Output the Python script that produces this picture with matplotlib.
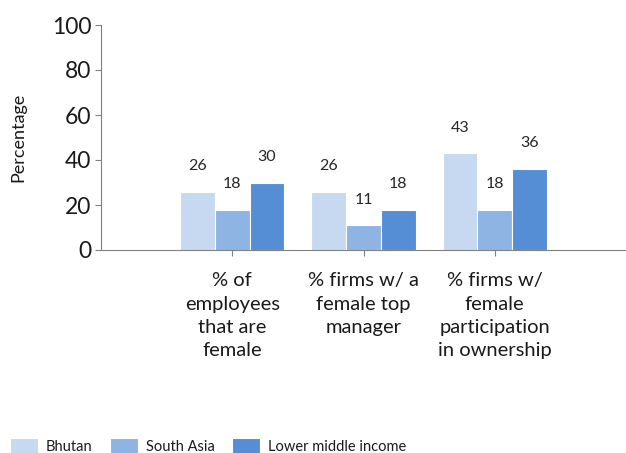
import matplotlib
matplotlib.use("Agg")
import matplotlib.pyplot as plt
import numpy as np

categories = ["% of\nemployees\nthat are\nfemale",
              "% firms w/ a\nfemale top\nmanager",
              "% firms w/\nfemale\nparticipation\nin ownership"]
series_names = ["Bhutan", "South Asia", "Lower middle income"]
bhutan = [26, 26, 43]
south_asia = [18, 11, 18]
lower_middle = [30, 18, 36]
yticks = [0, 20, 40, 60, 80, 100]

colors = ["#C6D9F1", "#8DB4E2", "#558ED5"]
plt.rcParams['font.family'] = ['Lato', 'DejaVu Sans']

fig = plt.figure(figsize=(6.26, 4.53), dpi=100)
ax = fig.add_axes([101/626, 1-250/453, 1-101/626, 225/453])

x = np.arange(1, len(categories) + 1)
w = 0.265
data = [bhutan, south_asia, lower_middle]
for i, (vals, name, c) in enumerate(zip(data, series_names, colors)):
    bars = ax.bar(x + (i - 1) * w, vals, width=w, color=c, edgecolor="white",
                  linewidth=0.8, label=name)
    for b, v in zip(bars, vals):
        ax.annotate(str(v), (b.get_x() + b.get_width() / 2, v),
                    xytext=(0, 13.5), textcoords="offset points",
                    ha="center", va="bottom", fontsize=11.5, color="#262626")

ax.set_xlim(0, 4)
ax.set_ylim(0, 100)
ax.set_yticks(yticks)
ax.set_xticks(x)
ax.set_xticklabels(categories, fontsize=14.5, linespacing=1.45, color="#1a1a1a")
ax.tick_params(axis='y', labelsize=16.5, length=4, pad=3, color="#808080", labelcolor="#1a1a1a")
ax.tick_params(axis='x', length=4, pad=12, color="#808080")
for s in ["top", "right"]:
    ax.spines[s].set_visible(False)
for s in ["left", "bottom"]:
    ax.spines[s].set_color("#808080")
ax.set_ylabel("Percentage", fontsize=13, color="#1a1a1a")
ax.yaxis.set_label_coords(-(101-26)/525, 0.5)

leg = fig.legend(loc="upper left", bbox_to_anchor=(10/626, 1-438/453), ncol=3,
                 frameon=False, fontsize=10.5, handlelength=1.9, handleheight=1.4,
                 handletextpad=0.55, columnspacing=1.2, borderpad=0, borderaxespad=0)
for t in leg.get_texts():
    t.set_color("#1a1a1a")

fig.savefig("out.png", dpi=100)
